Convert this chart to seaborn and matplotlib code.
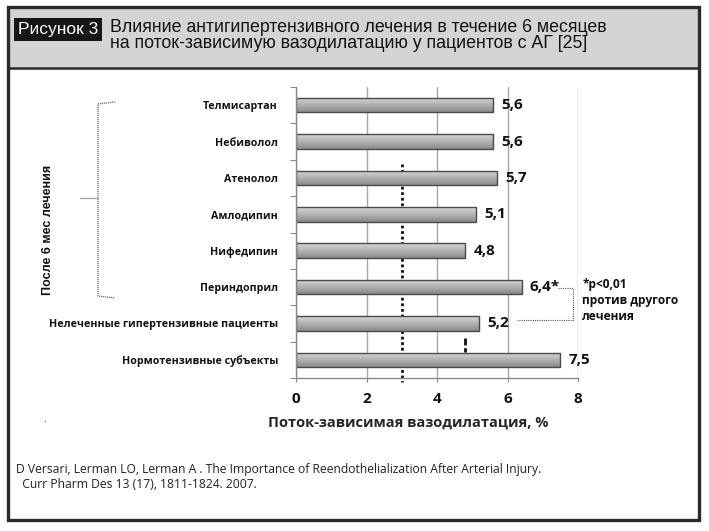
import numpy as np
import pandas as pd
import seaborn as sns
import matplotlib.pyplot as plt
from matplotlib.patches import Rectangle
from matplotlib.lines import Line2D

# ---------------- data ----------------
categories = ["Телмисартан", "Небиволол", "Атенолол", "Амлодипин", "Нифедипин",
              "Периндоприл", "Нелеченные гипертензивные пациенты", "Нормотензивные субъекты"]
values = [5.6, 5.6, 5.7, 5.1, 4.8, 6.4, 5.2, 7.5]
value_labels = ["5,6", "5,6", "5,7", "5,1", "4,8", "6,4*", "5,2", "7,5"]
x_ticks = [0, 2, 4, 6, 8]
x_tick_labels = ["0", "2", "4", "6", "8"]
ref_line_x = 3.0          # dotted reference line
ref_line_span = (1.62, 7.6)
normo_mark_x = 4.8        # short dashed marker above normotensive bar
normo_mark_span = (6.40, 6.79)

title_tag = "Рисунок 3"
title_lines = ["Влияние антигипертензивного лечения в течение 6 месяцев",
               "на поток-зависимую вазодилатацию у пациентов с АГ [25]"]
x_label = "Поток-зависимая вазодилатация, %"
group_label = "После 6 мес лечения"
signif_text = "*p<0,01\nпротив другого\nлечения"
citation = ["D Versari, Lerman LO, Lerman A . The Importance of Reendothelialization After Arterial Injury.",
            "  Curr Pharm Des 13 (17), 1811-1824. 2007."]

# ---------------- style ----------------
sns.set_theme(style="white")
BODY = ['Open Sans', 'DejaVu Sans']
NARROW = ['Liberation Sans Narrow', 'Liberation Sans', 'DejaVu Sans']
plt.rcParams['font.family'] = BODY

W, H = 709, 531
fig = plt.figure(figsize=(W / 100, H / 100), dpi=100)


def fx(px):
    return px / W


def fy(py):
    return 1 - py / H


# ---- header & frame ----
fig.patches.append(Rectangle((fx(8), fy(68)), fx(691), 61 / H, transform=fig.transFigure,
                             facecolor='#d4d4d4', edgecolor='none', zorder=0))
fig.patches.append(Rectangle((fx(8), fy(520)), fx(691), 513 / H, transform=fig.transFigure,
                             facecolor='none', edgecolor='#2b2b2b', lw=2.4, zorder=5))
fig.lines.append(Line2D([fx(8), fx(699)], [fy(68), fy(68)], transform=fig.transFigure,
                        color='#2b2b2b', lw=1.8, zorder=5))
fig.patches.append(Rectangle((fx(14), fy(41)), fx(88), 23 / H, transform=fig.transFigure,
                             facecolor='#161616', edgecolor='none', zorder=1))
fig.text(fx(58), fy(29.5), title_tag, color='white', fontsize=12.5, family=NARROW,
         ha='center', va='center', zorder=2)
fig.text(fx(110), fy(32), title_lines[0], color='#111111', fontsize=12.8, family=NARROW,
         ha='left', va='baseline')
fig.text(fx(110), fy(48.5), title_lines[1], color='#111111', fontsize=12.8, family=NARROW,
         ha='left', va='baseline')

# ---- axes ----
ax = fig.add_axes([fx(296), fy(378), 282 / W, 291 / H])
df = pd.DataFrame({"cat": categories, "val": values})
sns.barplot(data=df, x="val", y="cat", ax=ax, orient="h", color="#a9a9a9",
            edgecolor="#4a4a4a", linewidth=1.0, width=0.4, zorder=2)

# gradient fill inside each bar
cmap = plt.cm.colors.LinearSegmentedColormap.from_list("g", ["#d8d8d8", "#b2b2b2", "#8a8a8a"])
grad = np.linspace(0, 1, 64).reshape(-1, 1)
for p in list(ax.patches):
    x0, y0, w, h = p.get_x(), p.get_y(), p.get_width(), p.get_height()
    im = ax.imshow(grad, cmap=cmap, aspect='auto', extent=(x0, x0 + w, y0 + h, y0),
                   origin='upper', zorder=2.1, interpolation='bilinear')
    im.set_clip_path(p)
    p.set_facecolor('none')
    p.set_zorder(2.2)

ax.set_xlim(0, 8)
ax.set_ylim(len(categories) - 0.5, -0.5)
ax.set_xticks(x_ticks)
ax.set_xticklabels(x_tick_labels, fontweight='bold', fontsize=11)
ax.set_xlabel(x_label, fontweight='bold', fontsize=10.5)
ax.xaxis.set_label_coords((408 - 296) / 282, -(423 - 378) / 291, transform=ax.transAxes)
ax.xaxis.label.set_va('center')
ax.set_ylabel("")
ax.set_yticks(range(len(categories)))
ax.set_yticklabels(categories, fontweight='bold', fontsize=7.7)
ax.set_yticks(np.arange(-0.5, len(categories), 1), minor=True)
ax.tick_params(axis='y', which='major', length=0, pad=13, colors='#111111')
ax.tick_params(axis='y', which='minor', length=4, width=0.8, color='#8a8a8a', direction='out', left=True)
ax.tick_params(axis='x', which='major', length=3, width=0.8, direction='out',
               pad=7, bottom=True, labelcolor='#111111', color='#8a8a8a')
ax.xaxis.grid(True, color='#a8a8a8', lw=1.0)
ax.yaxis.grid(False)
ax.set_axisbelow(True)
for s in ['top', 'right']:
    ax.spines[s].set_visible(False)
for s in ['left', 'bottom']:
    ax.spines[s].set_color('#8a8a8a')
    ax.spines[s].set_linewidth(1.0)

# value labels
for i, (v, lab) in enumerate(zip(values, value_labels)):
    ax.annotate(lab, (v, i), xytext=(6, 0), textcoords='offset points', ha='left', va='center',
                fontweight='bold', fontsize=11, color='#111111')

# reference lines (behind bars)
ax.plot([ref_line_x, ref_line_x], ref_line_span, color='#111111', lw=2.0,
        linestyle=(0, (1, 1)), clip_on=False, zorder=1.5)
ax.plot([normo_mark_x, normo_mark_x], normo_mark_span, color='#111111', lw=2.0,
        linestyle=(0, (2.5, 1)), clip_on=False, zorder=1.5)

# significance connector and text
ax.plot([7.43, 7.86, 7.86, 6.27], [5.03, 5.03, 5.9, 5.9], color='#555555', lw=0.8,
        linestyle=(0, (1, 1)), clip_on=False, zorder=3)
ax.text(8.12, 4.74, signif_text, ha='left', va='top', fontsize=8.6, fontweight='bold',
        color='#111111', linespacing=1.3, clip_on=False)

# group brace (figure coords)
brace_col = '#707070'
for xs, ys in [([115, 98, 98, 115], [102, 104, 296, 298]), ([80, 98], [198, 198])]:
    fig.lines.append(Line2D([fx(x) for x in xs], [fy(y) for y in ys], transform=fig.transFigure,
                            color=brace_col, lw=0.9, linestyle=(0, (1, 0.6))))
fig.text(fx(48), fy(230), group_label, rotation=90, ha='center', va='center', fontsize=9,
         fontweight='bold', family=NARROW, color='#111111')

# stray dot & citation
fig.text(fx(45), fy(420), ".", ha='center', va='center', fontsize=7, color='#333333')
fig.text(fx(16), fy(469), citation[0], ha='left', va='center', fontsize=8.7, color='#222222')
fig.text(fx(16), fy(485), citation[1], ha='left', va='center', fontsize=8.7, color='#222222')

fig.savefig("out.png", dpi=100, facecolor='white')
